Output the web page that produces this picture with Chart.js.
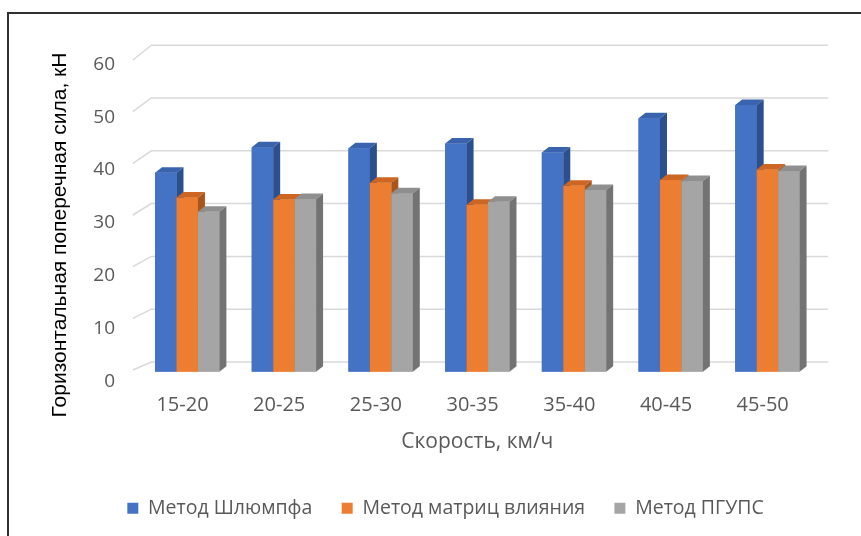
<!DOCTYPE html>
<html><head><meta charset="utf-8">
<script src="https://cdn.jsdelivr.net/npm/chart.js@4"></script>
<style>
html,body{margin:0;padding:0;background:#fff;}
#wrap{position:relative;width:861px;height:536px;overflow:hidden;background:#fff;}
#frame{position:absolute;left:7px;top:12px;right:-10px;bottom:-10px;border-left:2px solid #303030;border-top:2px solid #303030;}
canvas{position:absolute;left:0;top:0;}
</style></head><body>
<div id="wrap"><div id="frame"></div><canvas id="c" width="861" height="536"></canvas></div>
<script>
// ---- data ----
const categories = ['15-20', '20-25', '25-30', '30-35', '35-40', '40-45', '45-50'];
const shlyumpf = [37.7, 42.5, 42.3, 43.2, 41.5, 48.0, 50.5];
const matrixInfl = [33.0, 32.6, 35.8, 31.6, 35.2, 36.3, 38.3];
const pgups = [30.3, 32.7, 33.8, 32.2, 34.4, 36.1, 38.0];
const seriesNames = ['Метод Шлюмпфа', 'Метод матриц влияния', 'Метод ПГУПС'];
const yTitle = 'Горизонтальная поперечная сила, кН';
const xTitle = 'Скорость, км/ч';
const yMin = 0, yMax = 60, yStep = 10;

const FRONT = ['#4472C4', '#ED7D31', '#A5A5A5'];
const TOP = ['#3A63AE', '#CC6622', '#8F8F8F'];
const SIDE = ['#2C4F8E', '#A9561C', '#737373'];
const DX = 7, DY = -5.5;

const backWall = {
  id: 'backWall',
  beforeDatasetsDraw(chart) {
    const {ctx, chartArea: ca, scales: {y}} = chart;
    ctx.save();
    ctx.strokeStyle = '#D9D9D9';
    ctx.lineWidth = 1.5;
    const bottom = y.getPixelForValue(yMin);
    for (let v = yMin; v <= yMax; v += yStep) {
      const py = y.getPixelForValue(v);
      const backY = py - 9.7;
      const frontY = bottom + (py - bottom) * 0.9785 - 1.7;
      ctx.beginPath();
      ctx.moveTo(ca.left - 6, frontY);
      ctx.lineTo(ca.left + 12.5, backY);
      ctx.lineTo(ca.right + 12.5, backY);
      ctx.stroke();
    }
    ctx.restore();
  }
};

const bars3d = {
  id: 'bars3d',
  afterDatasetsDraw(chart) {
    const ctx = chart.ctx;
    const n = chart.data.labels.length;
    ctx.save();
    for (let i = 0; i < n; i++) {
      for (let d = 0; d < chart.data.datasets.length; d++) {
        const bar = chart.getDatasetMeta(d).data[i];
        const {x, y, base, width} = bar.getProps(['x', 'y', 'base', 'width'], true);
        const x0 = x - width / 2, x1 = x + width / 2;
        ctx.fillStyle = FRONT[d];
        ctx.fillRect(x0, y, width, base - y);
        ctx.fillStyle = TOP[d];
        ctx.beginPath();
        ctx.moveTo(x0, y); ctx.lineTo(x1, y); ctx.lineTo(x1 + DX, y + DY); ctx.lineTo(x0 + DX, y + DY);
        ctx.closePath(); ctx.fill();
        ctx.fillStyle = SIDE[d];
        ctx.beginPath();
        ctx.moveTo(x1, y); ctx.lineTo(x1 + DX, y + DY); ctx.lineTo(x1 + DX, base + DY); ctx.lineTo(x1, base);
        ctx.closePath(); ctx.fill();
      }
    }
    ctx.restore();
  }
};

const yTitlePlugin = {
  id: 'yTitlePlugin',
  afterDraw(chart) {
    const ctx = chart.ctx;
    ctx.save();
    ctx.translate(65.5, 235);
    ctx.rotate(-Math.PI / 2);
    ctx.font = '21px "Liberation Sans", Arial, sans-serif';
    ctx.fillStyle = '#000000';
    ctx.textAlign = 'center';
    ctx.textBaseline = 'alphabetic';
    ctx.fillText(yTitle, 0, 0);
    ctx.restore();
  }
};

new Chart(document.getElementById('c'), {
  type: 'bar',
  data: {
    labels: categories,
    datasets: [
      {label: seriesNames[0], data: shlyumpf, backgroundColor: FRONT[0]},
      {label: seriesNames[1], data: matrixInfl, backgroundColor: FRONT[1]},
      {label: seriesNames[2], data: pgups, backgroundColor: FRONT[2]}
    ]
  },
  options: {
    responsive: false,
    animation: false,
    devicePixelRatio: 1,
    categoryPercentage: 0.6655,
    barPercentage: 1,
    layout: {padding: {top: 54.9, left: 30, right: 0, bottom: 8}},
    plugins: {
      tooltip: {enabled: false},
      legend: {
        position: 'bottom',
        labels: {
          font: {family: '"Open Sans"', size: 19.5},
          color: '#595959',
          boxWidth: 11,
          boxHeight: 11,
          padding: 29.3
        }
      }
    },
    scales: {
      x: {
        grid: {display: false, drawTicks: false},
        border: {display: false},
        ticks: {font: {family: '"Open Sans"', size: 20}, color: '#595959', padding: 21.4, labelOffset: -4.7, maxRotation: 0},
        title: {display: true, text: xTitle, font: {family: '"Open Sans"', size: 21}, color: '#595959', padding: {top: 0, bottom: 14.5}},
        afterFit(s) { s.height = 97.5; }
      },
      y: {
        min: yMin, max: yMax,
        grid: {display: false, drawTicks: false},
        border: {display: false},
        ticks: {stepSize: yStep, font: {family: '"Open Sans"', size: 19}, color: '#595959', padding: 23.85, labelOffset: 9.5},
        afterFit(s) { s.width = 108.85; }
      },
      yRightSpace: {
        position: 'right',
        min: 0, max: 1,
        grid: {display: false, drawTicks: false},
        border: {display: false},
        ticks: {display: false},
        afterFit(s) { s.width = 45.25; }
      }
    }
  },
  plugins: [backWall, bars3d, yTitlePlugin]
});
</script>
</body></html>
